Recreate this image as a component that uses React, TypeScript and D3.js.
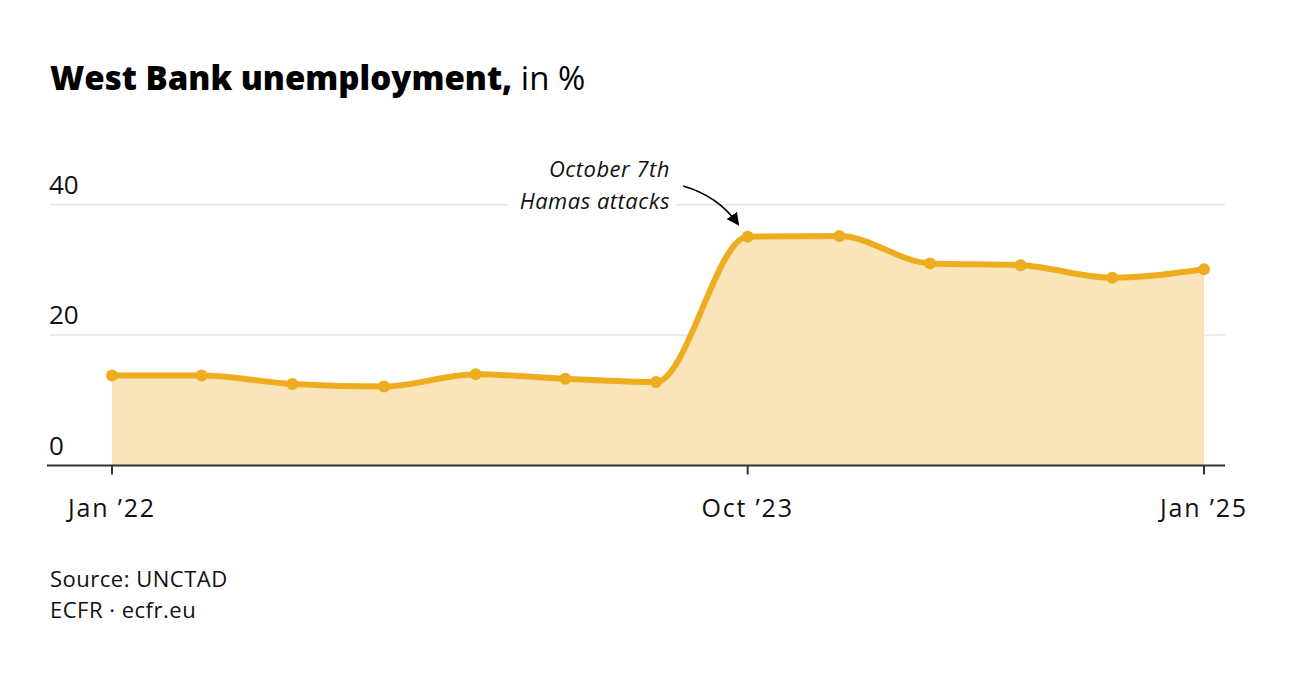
import React from "react";
import * as d3 from "d3";

const dates = [
  "2022-01", "2022-04", "2022-07", "2022-10",
  "2023-01", "2023-04", "2023-07", "2023-10",
  "2024-01", "2024-04", "2024-07", "2024-10", "2025-01",
];
const unemployment = [13.8, 13.8, 12.5, 12.1, 14.0, 13.3, 12.8, 35.1, 35.2, 31.0, 30.7, 28.8, 30.1];
const yTicks = [0, 20, 40];
const xTickDates = ["2022-01", "2023-10", "2025-01"];
const xTickLabels = ["Jan \u201922", "Oct \u201923", "Jan \u201925"];

const W = 1300;
const H = 678;
const FONT = "'Open Sans', 'Noto Sans', sans-serif";

export default function App() {
  const parse = d3.timeParse("%Y-%m");
  const data = dates.map((d, i) => ({ date: parse(d) as Date, value: unemployment[i] }));

  const x = d3
    .scaleTime()
    .domain([parse(dates[0]) as Date, parse(dates[dates.length - 1]) as Date])
    .range([112, 1204]);
  const y = d3.scaleLinear().domain([0, 40]).range([465.5, 204.7]);

  const line = d3
    .line<{ date: Date; value: number }>()
    .x((d) => x(d.date))
    .y((d) => y(d.value))
    .curve(d3.curveMonotoneX);
  const area = d3
    .area<{ date: Date; value: number }>()
    .x((d) => x(d.date))
    .y0(y(0))
    .y1((d) => y(d.value))
    .curve(d3.curveMonotoneX);

  const oct = data[7];
  const ax = x(oct.date);
  const ay = y(oct.value);

  return (
    <svg
      width={W}
      height={H}
      viewBox={`0 0 ${W} ${H}`}
      style={{ position: "absolute", left: 0, top: 0, background: "#fff" }}
    >
      <defs>
        <marker id="ah" viewBox="0 0 10 10" refX="8" refY="5" markerWidth="7" markerHeight="7" orient="auto">
          <path d="M0,0 L10,5 L0,10 z" fill="#000" />
        </marker>
      </defs>
      <rect width={W} height={H} fill="#fff" />
      <text x={50} y={90} fontFamily={FONT} fontSize={33} fill="#000">
        <tspan fontWeight={800}>West Bank unemployment,</tspan>
        <tspan fontWeight={400}> in %</tspan>
      </text>

      {yTicks.map((t) => (
        <g key={t}>
          {t !== 0 && (
            <line x1={50} x2={1225} y1={y(t)} y2={y(t)} stroke="#e3e3e3" strokeWidth={1.5} />
          )}
          <text x={49} y={y(t) - 11} fontFamily={FONT} fontSize={26} fill="#111">
            {t}
          </text>
        </g>
      ))}

      <path d={area(data) || ""} fill="#F9E5B9" />
      <path d={line(data) || ""} fill="none" stroke="#EDAD1F" strokeWidth={6} strokeLinejoin="round" strokeLinecap="round" />
      {data.map((d, i) => (
        <circle key={i} cx={x(d.date)} cy={y(d.value)} r={6} fill="#EDAD1F" />
      ))}

      <line x1={47} x2={1225} y1={y(0)} y2={y(0)} stroke="#333" strokeWidth={2} />
      {xTickDates.map((d, i) => {
        const xx = x(parse(d) as Date);
        return (
          <g key={d}>
            <line x1={xx} x2={xx} y1={y(0)} y2={y(0) + 9} stroke="#333" strokeWidth={2} />
            <text x={xx} y={517} textAnchor="middle" fontFamily={FONT} fontSize={25} letterSpacing={1.8} fill="#111">
              {xTickLabels[i]}
            </text>
          </g>
        );
      })}

      <text x={670} y={177} textAnchor="end" fontFamily={FONT} fontStyle="italic" fontSize={22} letterSpacing={0.5} fill="#111">
        October 7th
      </text>
      <rect x={508} y={190} width={168} height={24} fill="#fff" />
      <text x={670} y={209} textAnchor="end" fontFamily={FONT} fontStyle="italic" fontSize={22} letterSpacing={0.5} fill="#111">
        Hamas attacks
      </text>
      <path
        d={`M683,186 Q718,196 ${ax - 10},${ay - 13}`}
        fill="none"
        stroke="#000"
        strokeWidth={1.8}
        markerEnd="url(#ah)"
      />

      <text x={50} y={587} fontFamily={FONT} fontSize={22} letterSpacing={0.5} fill="#111">
        Source: UNCTAD
      </text>
      <text x={50} y={618} fontFamily={FONT} fontSize={22} letterSpacing={0.5} fill="#111">
        ECFR · ecfr.eu
      </text>
    </svg>
  );
}
